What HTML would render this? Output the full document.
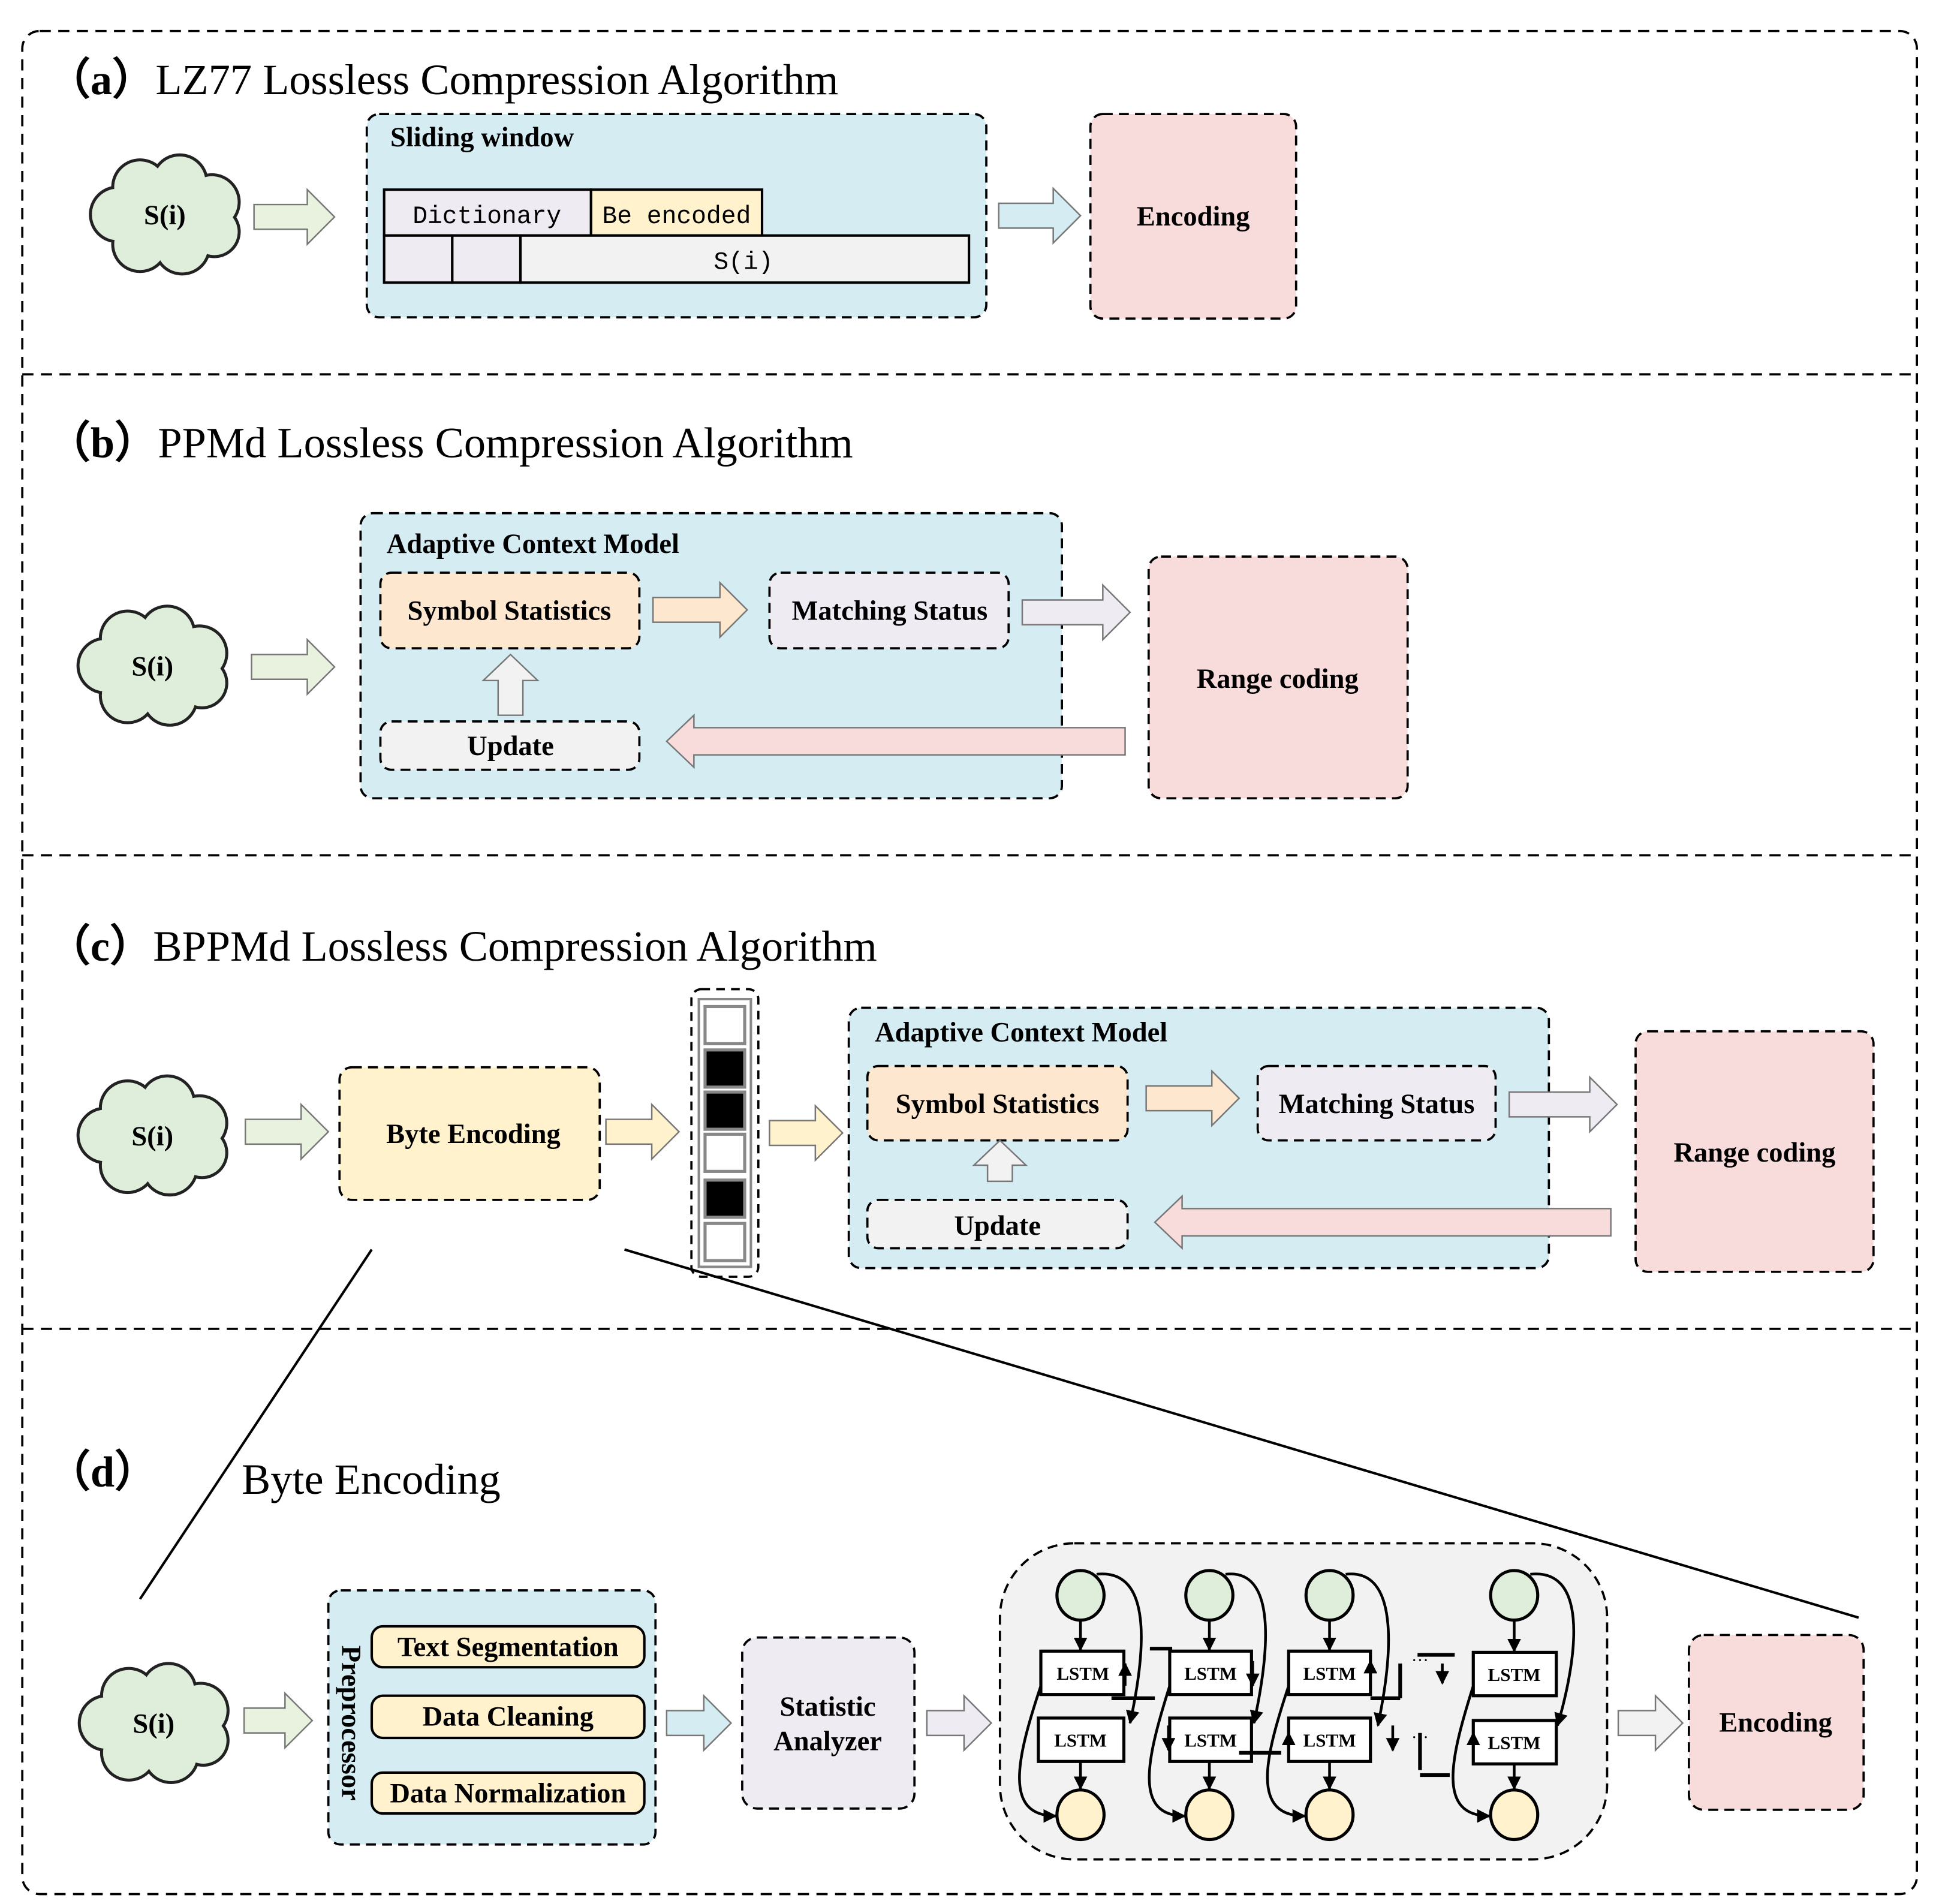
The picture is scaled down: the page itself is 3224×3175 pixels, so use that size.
<!DOCTYPE html>
<html><head><meta charset="utf-8"><style>
html,body{margin:0;padding:0;background:#fff}
svg{display:block}
text{font-family:"Liberation Serif",serif}
.t{font-size:35px}
.b{font-weight:bold;font-size:22.5px}
.m{font-family:"Liberation Mono",monospace;font-size:20px}
</style></head><body>
<svg width="3224" height="3175" viewBox="0 0 1560 1536" preserveAspectRatio="none" xmlns="http://www.w3.org/2000/svg">
<defs>
<marker id="ah" viewBox="0 0 10 10" refX="9" refY="5" markerWidth="5" markerHeight="5" orient="auto"><path d="M0,0 L10,5 L0,10 Z" fill="#000"/></marker>
<g id="cl">
<g stroke="#222" stroke-width="2.5" fill="#dfeedb">
<circle cx="-38" cy="0" r="22"/><circle cx="-20" cy="-22" r="22"/><circle cx="12" cy="-26" r="22"/><circle cx="38" cy="-10" r="22"/><circle cx="40" cy="14" r="20"/><circle cx="14" cy="26" r="22"/><circle cx="-20" cy="24" r="22"/>
</g>
<g fill="#dfeedb">
<circle cx="-38" cy="0" r="20.8"/><circle cx="-20" cy="-22" r="20.8"/><circle cx="12" cy="-26" r="20.8"/><circle cx="38" cy="-10" r="20.8"/><circle cx="40" cy="14" r="18.8"/><circle cx="14" cy="26" r="20.8"/><circle cx="-20" cy="24" r="20.8"/><ellipse cx="0" cy="0" rx="45" ry="30"/>
</g>
</g>
</defs>
<g fill="none" stroke="#000" stroke-width="1.8" stroke-dasharray="9,6">
<rect x="18" y="25" width="1529" height="1503" rx="14"/>
<line x1="18" y1="302" x2="1547" y2="302"/>
<line x1="18" y1="690" x2="1547" y2="690"/>
<line x1="18" y1="1072" x2="1547" y2="1072"/>
</g>

<!-- (a) -->
<text x="38" y="76" class="t"><tspan font-weight="bold">（a）</tspan>LZ77 Lossless Compression Algorithm</text>
<use href="#cl" transform="translate(133,173)"/>
<text x="133" y="181" class="b" text-anchor="middle">S(i)</text>
<path d="M205,165 L248,165 L248,153 L270,175 L248,197 L248,185 L205,185 Z" fill="#e8f2de" stroke="#777" stroke-width="1.2"/>
<rect x="296" y="92" width="500" height="164" rx="10" fill="#d5edf2" stroke="#000" stroke-width="1.8" stroke-dasharray="8,5"/>
<text x="315" y="118" class="b" font-size="21">Sliding window</text>
<g stroke="#000" stroke-width="2">
<rect x="310" y="153" width="167" height="37" fill="#efebf3"/>
<rect x="477" y="153" width="138" height="37" fill="#fff2cc"/>
<rect x="310" y="190" width="55" height="38" fill="#efebf3"/>
<rect x="365" y="190" width="55" height="38" fill="#efebf3"/>
<rect x="420" y="190" width="362" height="38" fill="#f2f2f2"/>
</g>
<text x="393" y="180" class="m" text-anchor="middle">Dictionary</text>
<text x="546" y="180" class="m" text-anchor="middle">Be encoded</text>
<text x="600" y="217" class="m" text-anchor="middle">S(i)</text>
<path d="M806,164 L850,164 L850,152 L872,174 L850,196 L850,184 L806,184 Z" fill="#d5edf2" stroke="#777" stroke-width="1.2"/>
<rect x="880" y="92" width="166" height="165" rx="10" fill="#f8dcdc" stroke="#000" stroke-width="1.8" stroke-dasharray="8,5"/>
<text x="963" y="182" class="b" text-anchor="middle">Encoding</text>

<!-- (b) -->
<text x="38" y="369" class="t"><tspan font-weight="bold">（b）</tspan>PPMd Lossless Compression Algorithm</text>
<use href="#cl" transform="translate(123,537)"/>
<text x="123" y="545" class="b" text-anchor="middle">S(i)</text>
<path d="M203,528 L248,528 L248,516 L270,538 L248,560 L248,548 L203,548 Z" fill="#e8f2de" stroke="#777" stroke-width="1.2"/>
<rect x="291" y="414" width="566" height="230" rx="10" fill="#d5edf2" stroke="#000" stroke-width="1.8" stroke-dasharray="8,5"/>
<text x="312" y="446" class="b">Adaptive Context Model</text>
<rect x="307" y="462" width="209" height="61" rx="9" fill="#fde7cf" stroke="#000" stroke-width="1.8" stroke-dasharray="8,5"/>
<text x="411" y="500" class="b" text-anchor="middle">Symbol Statistics</text>
<path d="M527,482 L581,482 L581,470 L603,492 L581,514 L581,502 L527,502 Z" fill="#fde7cf" stroke="#777" stroke-width="1.2"/>
<rect x="621" y="462" width="193" height="61" rx="9" fill="#efebf3" stroke="#000" stroke-width="1.8" stroke-dasharray="8,5"/>
<text x="718" y="500" class="b" text-anchor="middle">Matching Status</text>
<path d="M825,484 L890,484 L890,472 L912,494 L890,516 L890,504 L825,504 Z" fill="#efebf3" stroke="#777" stroke-width="1.2"/>
<rect x="927" y="449" width="209" height="195" rx="10" fill="#f8dcdc" stroke="#000" stroke-width="1.8" stroke-dasharray="8,5"/>
<text x="1031" y="555" class="b" text-anchor="middle">Range coding</text>
<path d="M402,577 L402,549 L390,549 L412,528 L434,549 L422,549 L422,577 Z" fill="#f2f2f2" stroke="#777" stroke-width="1.2"/>
<rect x="307" y="582" width="209" height="39" rx="9" fill="#f2f2f2" stroke="#000" stroke-width="1.8" stroke-dasharray="8,5"/>
<text x="412" y="609" class="b" text-anchor="middle">Update</text>
<path d="M908,587 L560,587 L560,577 L538,598 L560,619 L560,609 L908,609 Z" fill="#f8dcdc" stroke="#777" stroke-width="1.2"/>

<!-- (c) -->
<text x="38" y="775" class="t"><tspan font-weight="bold">（c）</tspan>BPPMd Lossless Compression Algorithm</text>
<use href="#cl" transform="translate(123,916)"/>
<text x="123" y="924" class="b" text-anchor="middle">S(i)</text>
<path d="M198,903 L243,903 L243,891 L265,913 L243,935 L243,923 L198,923 Z" fill="#e8f2de" stroke="#777" stroke-width="1.2"/>
<rect x="274" y="861" width="210" height="107" rx="10" fill="#fff2cc" stroke="#000" stroke-width="1.8" stroke-dasharray="8,5"/>
<text x="382" y="922" class="b" text-anchor="middle">Byte Encoding</text>
<path d="M489,903 L526,903 L526,891 L548,913 L526,935 L526,923 L489,923 Z" fill="#fff2cc" stroke="#777" stroke-width="1.2"/>
<rect x="558" y="798" width="54" height="232" rx="8" fill="#fff" stroke="#000" stroke-width="1.8" stroke-dasharray="7,5"/>
<rect x="564" y="806" width="42" height="216" fill="none" stroke="#888" stroke-width="2"/>
<g stroke="#888" stroke-width="2.5">
<rect x="569" y="812" width="32" height="30" fill="#fff"/>
<rect x="569" y="847" width="32" height="30" fill="#000"/>
<rect x="569" y="881" width="32" height="30" fill="#000"/>
<rect x="569" y="915" width="32" height="30" fill="#fff"/>
<rect x="569" y="952" width="32" height="30" fill="#000"/>
<rect x="569" y="987" width="32" height="30" fill="#fff"/>
</g>
<path d="M621,904 L658,904 L658,892 L680,914 L658,936 L658,924 L621,924 Z" fill="#fff2cc" stroke="#777" stroke-width="1.2"/>
<rect x="685" y="813" width="565" height="210" rx="10" fill="#d5edf2" stroke="#000" stroke-width="1.8" stroke-dasharray="8,5"/>
<text x="706" y="840" class="b">Adaptive Context Model</text>
<rect x="700" y="860" width="210" height="60" rx="9" fill="#fde7cf" stroke="#000" stroke-width="1.8" stroke-dasharray="8,5"/>
<text x="805" y="898" class="b" text-anchor="middle">Symbol Statistics</text>
<path d="M925,876 L978,876 L978,864 L1000,886 L978,908 L978,896 L925,896 Z" fill="#fde7cf" stroke="#777" stroke-width="1.2"/>
<rect x="1015" y="860" width="192" height="60" rx="9" fill="#efebf3" stroke="#000" stroke-width="1.8" stroke-dasharray="8,5"/>
<text x="1111" y="898" class="b" text-anchor="middle">Matching Status</text>
<path d="M1218,881 L1283,881 L1283,869 L1305,891 L1283,913 L1283,901 L1218,901 Z" fill="#efebf3" stroke="#777" stroke-width="1.2"/>
<rect x="1320" y="832" width="192" height="194" rx="10" fill="#f8dcdc" stroke="#000" stroke-width="1.8" stroke-dasharray="8,5"/>
<text x="1416" y="937" class="b" text-anchor="middle">Range coding</text>
<path d="M797,953 L797,940 L786,940 L807,920 L828,940 L817,940 L817,953 Z" fill="#f2f2f2" stroke="#777" stroke-width="1.2"/>
<rect x="700" y="968" width="210" height="39" rx="9" fill="#f2f2f2" stroke="#000" stroke-width="1.8" stroke-dasharray="8,5"/>
<text x="805" y="996" class="b" text-anchor="middle">Update</text>
<path d="M1300,975 L954,975 L954,965 L932,986 L954,1007 L954,997 L1300,997 Z" fill="#f8dcdc" stroke="#777" stroke-width="1.2"/>
<line x1="300" y1="1008" x2="113" y2="1290" stroke="#000" stroke-width="2"/>
<line x1="504" y1="1008" x2="1500" y2="1305" stroke="#000" stroke-width="2"/>

<!-- (d) -->
<text x="38" y="1199" class="t" font-weight="bold">（d）</text>
<text x="195" y="1205" class="t">Byte Encoding</text>
<use href="#cl" transform="translate(124,1390)"/>
<text x="124" y="1398" class="b" text-anchor="middle">S(i)</text>
<path d="M197,1378 L230,1378 L230,1366 L252,1388 L230,1410 L230,1398 L197,1398 Z" fill="#e8f2de" stroke="#777" stroke-width="1.2"/>
<rect x="265" y="1283" width="264" height="205" rx="10" fill="#d5edf2" stroke="#000" stroke-width="1.8" stroke-dasharray="8,5"/>
<text transform="translate(276,1390) rotate(90)" class="b" text-anchor="middle" font-size="20">Preprocessor</text>
<g fill="#fff2cc" stroke="#000" stroke-width="2">
<rect x="300" y="1312" width="220" height="33" rx="9"/>
<rect x="300" y="1368" width="220" height="34" rx="9"/>
<rect x="300" y="1430" width="220" height="33" rx="9"/>
</g>
<text x="410" y="1336" class="b" text-anchor="middle">Text Segmentation</text>
<text x="410" y="1392" class="b" text-anchor="middle">Data Cleaning</text>
<text x="410" y="1454" class="b" text-anchor="middle">Data Normalization</text>
<path d="M538,1380 L568,1380 L568,1368 L590,1390 L568,1412 L568,1400 L538,1400 Z" fill="#d5edf2" stroke="#777" stroke-width="1.2"/>
<rect x="599" y="1321" width="139" height="138" rx="12" fill="#efebf3" stroke="#000" stroke-width="1.8" stroke-dasharray="8,5"/>
<text x="668" y="1384" class="b" text-anchor="middle">Statistic</text>
<text x="668" y="1412" class="b" text-anchor="middle">Analyzer</text>
<path d="M748,1380 L778,1380 L778,1368 L800,1390 L778,1412 L778,1400 L748,1400 Z" fill="#efebf3" stroke="#777" stroke-width="1.2"/>
<rect x="807" y="1245" width="490" height="255" rx="60" fill="#f2f2f2" stroke="#000" stroke-width="1.8" stroke-dasharray="8,5"/>
<path d="M1306,1380 L1336,1380 L1336,1368 L1358,1390 L1336,1412 L1336,1400 L1306,1400 Z" fill="#f2f2f2" stroke="#777" stroke-width="1.2"/>
<rect x="1363" y="1319" width="141" height="141" rx="12" fill="#f8dcdc" stroke="#000" stroke-width="1.8" stroke-dasharray="8,5"/>
<text x="1433" y="1397" class="b" text-anchor="middle">Encoding</text>

<!-- LSTM grid -->
<g stroke="#000" stroke-width="2.5">
<g fill="#dfeedb">
<ellipse cx="872" cy="1287" rx="19" ry="20"/><ellipse cx="976" cy="1287" rx="19" ry="20"/><ellipse cx="1073" cy="1287" rx="19" ry="20"/><ellipse cx="1222" cy="1287" rx="19" ry="20"/>
</g>
<g fill="#fff2cc">
<ellipse cx="872" cy="1464" rx="19" ry="20"/><ellipse cx="976" cy="1464" rx="19" ry="20"/><ellipse cx="1073" cy="1464" rx="19" ry="20"/><ellipse cx="1222" cy="1464" rx="19" ry="20"/>
</g>
<g fill="#fff">
<rect x="840" y="1332" width="67" height="35"/><rect x="944" y="1332" width="66" height="35"/><rect x="1040" y="1332" width="66" height="35"/><rect x="1189" y="1333" width="67" height="35"/>
<rect x="838" y="1386" width="69" height="35"/><rect x="944" y="1386" width="66" height="35"/><rect x="1040" y="1386" width="66" height="35"/><rect x="1189" y="1388" width="67" height="35"/>
</g>
</g>
<g font-size="15" text-anchor="middle" font-weight="bold">
<text x="874" y="1355">LSTM</text><text x="977" y="1355">LSTM</text><text x="1073" y="1355">LSTM</text><text x="1222" y="1356">LSTM</text>
<text x="872" y="1409">LSTM</text><text x="977" y="1409">LSTM</text><text x="1073" y="1409">LSTM</text><text x="1222" y="1411">LSTM</text>
</g>
<g fill="none" stroke="#000" stroke-width="2.2" marker-end="url(#ah)">
<line x1="872" y1="1308" x2="872" y2="1331"/><line x1="976" y1="1308" x2="976" y2="1331"/><line x1="1073" y1="1308" x2="1073" y2="1331"/><line x1="1222" y1="1308" x2="1222" y2="1332"/>
<line x1="872" y1="1421" x2="872" y2="1443"/><line x1="976" y1="1421" x2="976" y2="1443"/><line x1="1073" y1="1421" x2="1073" y2="1443"/><line x1="1222" y1="1423" x2="1222" y2="1443"/>
<path d="M885,1270 C930,1265 925,1330 912,1390"/>
<path d="M989,1270 C1030,1265 1025,1330 1012,1390"/>
<path d="M1086,1270 C1128,1265 1125,1330 1112,1392"/>
<path d="M1235,1270 C1280,1265 1275,1330 1257,1392"/>
<path d="M840,1360 C820,1420 810,1465 852,1465"/>
<path d="M944,1360 C925,1420 915,1465 956,1465"/>
<path d="M1040,1360 C1020,1420 1010,1465 1053,1465"/>
<path d="M1189,1360 C1170,1420 1160,1465 1202,1465"/>
<line x1="908" y1="1360" x2="908" y2="1342"/>
<line x1="1011" y1="1340" x2="1011" y2="1360"/>
<line x1="1106" y1="1360" x2="1106" y2="1340"/>
<line x1="943" y1="1392" x2="943" y2="1412"/>
<line x1="1040" y1="1418" x2="1040" y2="1398"/>
<line x1="1124" y1="1392" x2="1124" y2="1412"/>
<line x1="1164" y1="1342" x2="1164" y2="1358"/>
<line x1="1189" y1="1420" x2="1189" y2="1398"/>
</g>
<g stroke="#000" stroke-width="3">
<line x1="897" y1="1370" x2="932" y2="1370"/><line x1="928" y1="1330" x2="946" y2="1330"/><line x1="1106" y1="1370" x2="1130" y2="1370"/>
<line x1="1130" y1="1342" x2="1130" y2="1370"/><line x1="1144" y1="1335" x2="1174" y2="1335"/>
<line x1="1000" y1="1414" x2="1034" y2="1414"/><line x1="1146" y1="1398" x2="1146" y2="1428"/><line x1="1146" y1="1432" x2="1170" y2="1432"/>
</g>
<text x="1146" y="1344" font-size="14" text-anchor="middle">···</text>
<text x="1146" y="1406" font-size="14" text-anchor="middle">···</text>
</svg>
</body></html>
